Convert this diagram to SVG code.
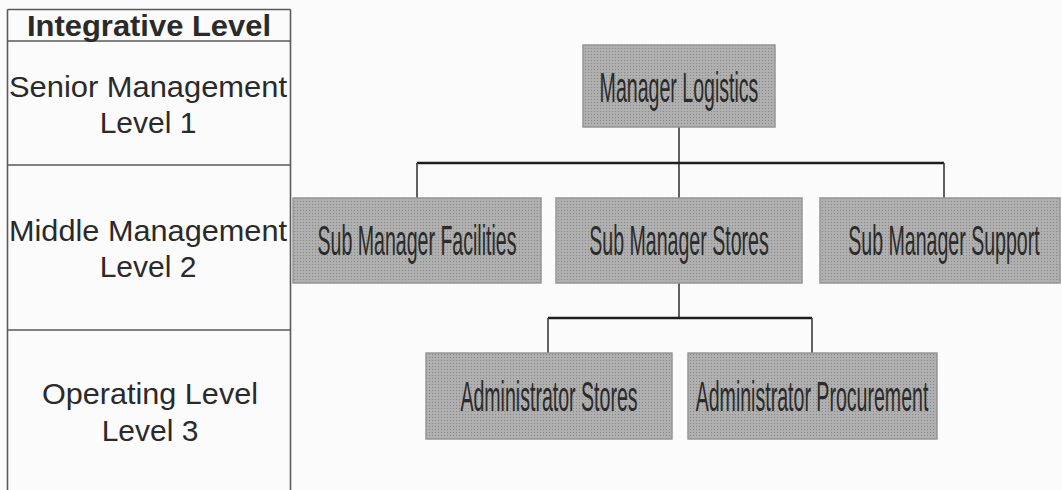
<svg xmlns="http://www.w3.org/2000/svg" width="1062" height="490" viewBox="0 0 1062 490">
  <defs>
    <pattern id="stipple" width="3" height="3" patternUnits="userSpaceOnUse">
      <rect width="3" height="3" fill="#adadad"/>
      <rect x="0" y="0" width="1" height="1" fill="#8a8a8a"/>
      <rect x="1.5" y="1.5" width="1" height="1" fill="#bfbfbf"/>
    </pattern>
  </defs>
  <style>
    .tbl { fill: none; stroke: #5a5a5a; stroke-width: 1.6; }
    .lvl { font-family: "Liberation Sans", Arial, sans-serif; font-size: 30px; fill: #2a2a2a; text-anchor: middle; }
    .hdr { font-family: "Liberation Sans", Arial, sans-serif; font-size: 29px; font-weight: bold; fill: #2a2a2a; text-anchor: middle; }
    .box { fill: url(#stipple); stroke: #969696; stroke-width: 1.5; }
    .lbl { font-family: "Liberation Sans", Arial, sans-serif; font-size: 42px; fill: #2b2b2b; text-anchor: middle; }
    .h { stroke: #1e1e1e; stroke-width: 2.6; fill: none; }
    .v { stroke: #3a3a3a; stroke-width: 1.6; fill: none; }
  </style>
  <rect width="1062" height="490" fill="#fbfbfb"/>

  <g id="level-table">
    <path class="tbl" d="M7.5,9.5 H290.5 M7.5,9.5 V490 M290.5,9.5 V490 M7.5,41 H290.5 M7.5,165 H290.5 M7.5,330 H290.5"/>
    <text class="hdr" x="149" y="36" textLength="244" lengthAdjust="spacingAndGlyphs">Integrative Level</text>
    <text class="lvl" x="148" y="97" textLength="278" lengthAdjust="spacingAndGlyphs">Senior Management</text>
    <text class="lvl" x="148" y="133">Level 1</text>
    <text class="lvl" x="148" y="241" textLength="278" lengthAdjust="spacingAndGlyphs">Middle Management</text>
    <text class="lvl" x="148" y="277">Level 2</text>
    <text class="lvl" x="150" y="404" textLength="216" lengthAdjust="spacingAndGlyphs">Operating Level</text>
    <text class="lvl" x="150" y="441">Level 3</text>
  </g>

  <g id="connectors">
    <path class="v" d="M679,127 V198"/>
    <path class="h" d="M417,163 H944"/>
    <path class="v" d="M417,163 V198 M944,163 V198"/>
    <path class="v" d="M679,283 V318"/>
    <path class="h" d="M548,318 H812"/>
    <path class="v" d="M548,318 V353 M812,318 V353"/>
  </g>

  <g id="manager-logistics">
    <rect class="box" x="583" y="45" width="192" height="82"/>
    <text class="lbl" transform="translate(679,102) scale(0.466,1)">Manager Logistics</text>
  </g>

  <g id="sub-manager-facilities">
    <rect class="box" x="293" y="198" width="248" height="85"/>
    <text class="lbl" transform="translate(417,255) scale(0.466,1)">Sub Manager Facilities</text>
  </g>

  <g id="sub-manager-stores">
    <rect class="box" x="556" y="198" width="246" height="85"/>
    <text class="lbl" transform="translate(679,255) scale(0.466,1)">Sub Manager Stores</text>
  </g>

  <g id="sub-manager-support">
    <rect class="box" x="820" y="198" width="240" height="85"/>
    <text class="lbl" transform="translate(944,255) scale(0.466,1)">Sub Manager Support</text>
  </g>

  <g id="administrator-stores">
    <rect class="box" x="426" y="353" width="246" height="86"/>
    <text class="lbl" transform="translate(549,411) scale(0.466,1)">Administrator Stores</text>
  </g>

  <g id="administrator-procurement">
    <rect class="box" x="688" y="353" width="249" height="86"/>
    <text class="lbl" transform="translate(812,411) scale(0.466,1)">Administrator Procurement</text>
  </g>
</svg>
